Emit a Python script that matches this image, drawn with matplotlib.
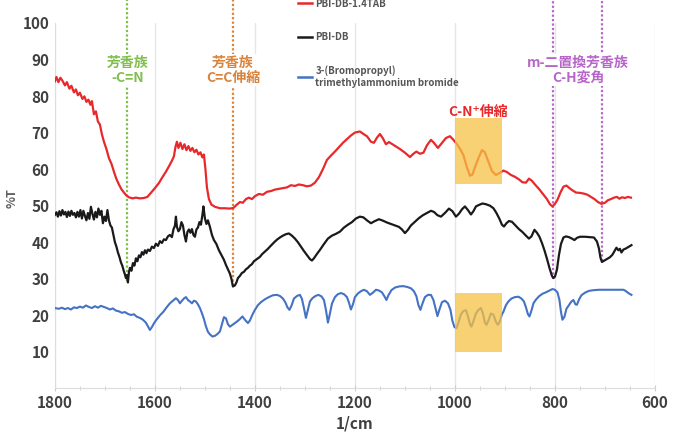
import matplotlib
matplotlib.use('Agg')  # no display

import matplotlib.pyplot as plt
from matplotlib.lines import Line2D
from matplotlib.patches import Rectangle

plt.rcParams['font.family'] = ['Noto Sans CJK JP', 'DejaVu Sans']

# red: PBI-DB-1.4TAB  (wavenumber 1/cm, %T)
red_wn = [1800, 1797, 1793, 1789, 1785, 1780, 1776, 1771, 1767, 1762, 1758, 1754, 1750,
          1745, 1741, 1737, 1733, 1729, 1726, 1722, 1718, 1714, 1710, 1706, 1702, 1697,
          1692, 1687, 1682, 1677, 1672, 1667, 1662, 1657, 1652, 1645, 1638, 1630, 1622,
          1615, 1608, 1600, 1592, 1585, 1578, 1571, 1566, 1562, 1559, 1556, 1553, 1549,
          1545, 1541, 1537, 1533, 1529, 1525, 1521, 1517, 1513, 1509, 1505, 1502, 1499,
          1496, 1492, 1487, 1480, 1470, 1460, 1450, 1443, 1436, 1430, 1424, 1418, 1412,
          1406, 1400, 1392, 1384, 1376, 1368, 1360, 1352, 1344, 1336, 1328, 1320, 1312,
          1304, 1296, 1288, 1280, 1272, 1264, 1256, 1248, 1240, 1232, 1224, 1216, 1208,
          1200, 1190, 1183, 1176, 1168, 1162, 1156, 1150, 1144, 1138, 1132, 1126, 1118,
          1110, 1100, 1090, 1083, 1077, 1070, 1063, 1056, 1048, 1042, 1034, 1027, 1018,
          1010, 1003, 997, 990, 983, 976, 970, 965, 960, 953, 946, 940, 933, 926, 918,
          910, 903, 896, 888, 880, 872, 865, 858, 852, 846, 840, 832, 824, 816, 810, 805,
          800, 795, 789, 783, 777, 771, 765, 758, 750, 742, 735, 728, 721, 714, 707, 700,
          694, 688, 682, 676, 671, 666, 660, 654, 648]
red_t = [84.0, 85.2, 83.8, 85.0, 84.2, 82.9, 83.8, 82.0, 82.8, 81.0, 81.8, 80.2, 80.9,
         79.2, 79.9, 78.4, 79.0, 77.6, 78.6, 75.0, 75.8, 73.0, 72.2, 69.5, 67.5, 65.5,
         63.0, 61.5, 59.3, 57.3, 55.8, 54.5, 53.6, 52.8, 52.3, 52.0, 52.2, 52.0, 52.1,
         52.4, 53.5, 54.8, 56.2, 57.8, 59.3, 61.0, 62.3, 63.5, 66.0, 67.5, 65.8, 67.2,
         65.5, 66.8, 65.2, 66.3, 65.0, 65.8, 64.6, 65.3, 64.0, 64.6, 63.2, 64.0, 60.0,
         55.0, 51.8, 50.3, 49.7, 49.3, 49.3, 49.2, 49.4, 50.3, 51.0, 50.8, 51.8, 52.2,
         51.8, 52.6, 53.2, 53.0, 53.8, 54.0, 54.4, 54.6, 54.8, 55.0, 55.6, 55.4, 55.8,
         55.6, 55.3, 55.5, 56.3, 57.8, 60.0, 62.5, 63.7, 64.8, 66.0, 67.2, 68.2, 69.2,
         70.0, 70.3, 69.6, 69.0, 67.5, 67.2, 68.6, 69.6, 68.4, 66.8, 67.4, 66.9, 66.2,
         65.5, 64.5, 63.3, 64.2, 64.8, 64.2, 64.5, 66.5, 68.0, 67.2, 65.8, 67.0, 68.5,
         69.0, 68.0, 67.0, 65.6, 63.8, 60.5, 58.2, 58.5, 60.5, 63.0, 65.2, 64.6, 62.0,
         59.5, 58.4, 59.0, 59.6, 59.2, 58.4, 57.9, 57.2, 56.4, 56.3, 57.4, 56.8, 55.8,
         54.6, 53.2, 51.8, 50.4, 49.8, 50.5, 51.6, 53.6, 55.2, 55.5, 54.8, 54.2, 53.6,
         53.5, 53.3, 53.0, 52.4, 51.8, 51.0, 50.5, 50.8, 51.5, 51.8, 52.2, 52.4, 51.9,
         52.3, 52.1, 52.4, 52.2]

# black: PBI-DB
blk_wn = [1800, 1797, 1794, 1791, 1788, 1785, 1782, 1779, 1776, 1773, 1770, 1767, 1764,
          1761, 1758, 1755, 1752, 1749, 1746, 1743, 1740, 1737, 1734, 1731, 1728, 1725,
          1722, 1719, 1716, 1713, 1710, 1707, 1704, 1701, 1698, 1695, 1692, 1689, 1686,
          1683, 1680, 1677, 1674, 1671, 1668, 1665, 1662, 1660, 1658, 1656, 1654, 1652,
          1650, 1647, 1644, 1641, 1638, 1635, 1632, 1629, 1626, 1623, 1620, 1617, 1614,
          1610, 1606, 1602, 1598, 1594, 1590, 1586, 1582, 1578, 1574, 1570, 1566, 1563,
          1560, 1558, 1556, 1553, 1550, 1547, 1544, 1541, 1538, 1535, 1532, 1529, 1526,
          1523, 1520, 1517, 1514, 1511, 1508, 1505, 1503, 1500, 1497, 1494, 1490, 1486,
          1482, 1477, 1472, 1467, 1462, 1458, 1454, 1450, 1447, 1444, 1440, 1437, 1434,
          1430, 1426, 1422, 1418, 1414, 1410, 1406, 1402, 1398, 1394, 1390, 1386, 1382,
          1378, 1374, 1370, 1365, 1360, 1355, 1350, 1344, 1338, 1332, 1326, 1320, 1314,
          1308, 1302, 1296, 1290, 1286, 1282, 1276, 1270, 1262, 1254, 1246, 1238, 1230,
          1222, 1214, 1206, 1198, 1190, 1183, 1176, 1168, 1160, 1152, 1144, 1136, 1128,
          1120, 1112, 1106, 1100, 1094, 1088, 1080, 1072, 1064, 1056, 1048, 1042, 1035,
          1028, 1020, 1012, 1005, 998, 992, 986, 980, 974, 968, 963, 958, 952, 945, 938,
          930, 923, 917, 911, 906, 902, 897, 892, 886, 879, 872, 865, 858, 852, 847, 841,
          836, 831, 826, 821, 816, 811, 806, 803, 800, 796, 792, 788, 783, 778, 772, 766,
          761, 756, 750, 740, 730, 722, 716, 712, 709, 706, 701, 696, 690, 685, 680, 677,
          673, 670, 667, 663, 658, 652, 647]
blk_t = [47.5, 48.2, 47.0, 48.5, 47.3, 48.8, 47.6, 48.3, 46.9, 48.4, 47.2, 48.6, 47.5,
         48.0, 46.8, 48.3, 47.0, 48.8, 46.5, 48.6, 47.2, 46.0, 48.0, 46.4, 49.7, 47.8,
         46.2, 48.3, 46.8, 49.2, 47.5, 48.6, 45.2, 47.0, 45.8, 48.8, 46.0, 44.6, 44.0,
         42.0, 40.0, 38.8, 37.2, 36.0, 34.5, 33.5, 32.0, 31.2, 30.2, 31.0, 29.0, 31.8,
         33.0, 32.2, 34.3, 33.6, 35.6, 34.8, 36.4, 35.9, 37.3, 36.6, 37.8, 37.0, 38.0,
         37.6, 38.8, 38.4, 39.6, 39.0, 40.3, 39.8, 40.8, 40.6, 41.6, 42.0, 41.4, 43.5,
         44.5, 47.0, 44.2, 43.0, 43.6, 45.5, 44.6, 42.0, 40.2, 42.8, 43.5, 42.6, 43.6,
         42.0, 41.5, 43.5, 44.0, 45.5, 44.8, 47.5, 49.8, 46.5, 45.0, 46.0, 44.2, 42.0,
         40.6, 39.5, 37.8, 36.5, 35.2, 33.8, 32.6, 31.4, 30.0, 27.9, 28.2, 29.0, 30.2,
         30.8, 31.6, 31.9, 32.6, 33.0, 33.6, 34.0, 34.8, 35.2, 35.6, 36.0, 36.7, 37.2,
         37.7, 38.2, 38.8, 39.5, 40.2, 40.8, 41.3, 41.8, 42.2, 42.4, 41.8, 41.0, 40.0,
         38.8, 37.6, 36.5, 35.4, 35.0, 35.6, 36.8, 37.9, 39.5, 41.0, 41.8, 42.3, 42.9,
         44.0, 44.8, 45.5, 46.5, 47.0, 46.8, 46.0, 45.2, 45.8, 46.3, 45.9, 45.4, 45.0,
         44.6, 44.2, 43.5, 42.5, 43.4, 44.6, 45.6, 46.6, 47.4, 48.0, 48.6, 48.3, 47.4,
         47.0, 48.0, 49.2, 48.5, 47.0, 47.8, 49.0, 49.8, 48.8, 47.6, 48.5, 49.8, 50.2,
         50.6, 50.4, 50.0, 49.3, 48.0, 46.4, 44.8, 44.3, 45.2, 45.8, 45.6, 44.6, 43.6,
         42.8, 41.8, 41.0, 41.6, 43.4, 42.6, 41.5, 39.8, 37.8, 35.5, 33.0, 30.8, 30.2,
         30.6, 32.5, 36.5, 39.5, 41.3, 41.6, 41.4, 41.0, 40.6, 41.2, 41.5, 41.5, 41.4,
         41.3, 40.2, 38.3, 35.8, 34.6, 35.0, 35.4, 35.9, 36.6, 37.8, 38.5, 37.8, 38.2,
         37.2, 38.0, 38.3, 38.8, 39.2]

# blue: 3-(Bromopropyl)trimethylammonium bromide
blu_wn = [1800, 1792, 1786, 1780, 1774, 1768, 1762, 1756, 1750, 1744, 1738, 1732, 1726,
          1720, 1714, 1708, 1702, 1696, 1690, 1684, 1678, 1672, 1666, 1660, 1654, 1648,
          1642, 1636, 1630, 1624, 1618, 1614, 1610, 1606, 1602, 1597, 1590, 1583, 1576,
          1570, 1564, 1558, 1554, 1550, 1546, 1542, 1538, 1534, 1530, 1526, 1522, 1518,
          1514, 1510, 1506, 1502, 1498, 1494, 1490, 1485, 1480, 1475, 1470, 1466, 1462,
          1458, 1454, 1450, 1445, 1440, 1435, 1430, 1425, 1420, 1414, 1410, 1405, 1400,
          1394, 1388, 1380, 1372, 1364, 1356, 1350, 1344, 1339, 1335, 1331, 1327, 1322,
          1316, 1310, 1306, 1302, 1298, 1294, 1290, 1285, 1279, 1273, 1267, 1262, 1258,
          1254, 1250, 1246, 1240, 1234, 1228, 1222, 1216, 1212, 1208, 1204, 1200, 1194,
          1188, 1182, 1176, 1170, 1164, 1158, 1152, 1146, 1141, 1137, 1133, 1127, 1120,
          1112, 1104, 1096, 1088, 1082, 1077, 1073, 1069, 1065, 1060, 1054, 1048, 1043,
          1039, 1035, 1031, 1026, 1020, 1014, 1009, 1005, 1001, 997, 993, 988, 983, 978,
          974, 970, 967, 963, 958, 953, 948, 944, 940, 937, 933, 928, 923, 918, 914, 910,
          906, 903, 898, 893, 887, 880, 873, 867, 862, 858, 854, 851, 847, 843, 838, 832,
          825, 818, 811, 805, 800, 795, 791, 788, 785, 781, 777, 772, 767, 763, 759, 756,
          752, 747, 740, 732, 722, 712, 700, 690, 680, 670, 663, 660, 656, 652, 647]
blu_t = [22.0, 21.8, 22.1, 21.7, 22.0, 21.6, 22.2, 22.0, 22.4, 22.1, 22.7, 22.3, 22.0,
         22.5, 22.1, 22.6, 22.3, 22.0, 21.6, 21.9, 21.3, 21.1, 20.7, 20.9, 20.4, 20.1,
         20.3, 19.6, 19.3, 18.8, 18.0, 17.0, 16.0, 16.8, 17.8, 18.8, 20.0, 21.0, 22.3,
         23.3, 24.0, 24.7, 24.2, 23.3, 24.0, 24.6, 25.0, 24.2, 23.8, 23.3, 24.0, 23.8,
         23.0, 22.0, 20.6, 19.0, 17.0, 15.5, 14.8, 14.2, 14.4, 14.9, 15.6, 17.5, 19.5,
         19.2, 17.6, 16.9, 17.4, 17.9, 18.4, 19.0, 19.7, 18.8, 17.9, 18.6, 20.2, 21.5,
         22.8, 23.6, 24.4, 25.0, 25.5, 25.6, 25.3, 24.6, 23.5, 22.2, 21.5, 22.6, 24.6,
         25.3, 25.6, 24.5, 22.0, 19.3, 21.5, 23.8, 24.7, 25.3, 25.6, 25.2, 24.2, 21.5,
         18.0, 20.5, 23.2, 25.0, 25.8, 26.1, 25.8, 25.0, 23.5, 21.6, 23.0, 25.0, 26.0,
         26.6, 27.0, 26.6, 25.6, 26.2, 27.0, 26.8, 26.3, 25.2, 24.2, 25.5, 26.9, 27.6,
         27.9, 28.0, 27.8, 27.4, 26.6, 25.2, 22.8, 21.5, 23.2, 25.0, 25.6, 25.6, 24.2,
         22.0, 19.8, 21.6, 23.6, 24.0, 23.3, 21.5, 18.5, 16.8, 16.5, 18.0, 20.3, 21.2,
         21.4, 19.8, 17.6, 16.9, 18.4, 20.5, 21.5, 22.0, 20.5, 18.0, 17.4, 18.6, 20.5,
         20.2, 18.2, 17.4, 18.4, 20.3, 21.0, 22.8, 23.8, 24.6, 25.0, 25.1, 24.6, 23.8,
         22.2, 20.3, 19.7, 21.3, 23.3, 24.3, 25.2, 25.9, 26.3, 26.8, 27.2, 27.0, 26.3,
         24.2, 21.0, 18.8, 19.6, 21.8, 22.8, 23.8, 24.2, 23.0, 22.9, 24.3, 25.5, 26.2,
         26.7, 26.9, 27.0, 27.0, 27.0, 27.0, 27.0, 27.0, 26.8, 26.4, 26.0, 25.6]

series_labels = ['PBI-DB-1.4TAB', 'PBI-DB',
                 '3-(Bromopropyl)\ntrimethylammonium bromide']
series_colors = ['#e8292b', '#1a1a1a', '#4472c4']

x_ticks = [1800, 1600, 1400, 1200, 1000, 800, 600]
y_ticks = [10, 20, 30, 40, 50, 60, 70, 80, 90, 100]

# marker lines: (wavenumber, lower end %T, colour)
marker_wn = [1655, 1444, 804, 706]
marker_low = [29.5, 28.0, 30.0, 34.8]
marker_colors = ['#7fbf4d', '#d9843a', '#b765c8', '#b765c8']

# highlighted C-N+ band: x range and y ranges for two boxes
box_x = (1000, 905)
box_y = [(56, 74), (10, 26)]

fig = plt.figure(figsize=(6.78, 4.36), dpi=100)
ax = fig.add_axes([0.081, 0.109, 0.885, 0.8385])

ax.plot(red_wn, red_t, color=series_colors[0], lw=1.6, zorder=3)
ax.plot(blk_wn, blk_t, color=series_colors[1], lw=1.6, zorder=3)
ax.plot(blu_wn, blu_t, color=series_colors[2], lw=1.5, zorder=3)

for wn, low, col in zip(marker_wn, marker_low, marker_colors):
    ax.plot([wn, wn], [low, 106.5], color=col, lw=1.6, ls=(0, (1, 1)),
            clip_on=False, zorder=2)

for y0, y1 in box_y:
    ax.add_patch(Rectangle((box_x[1], y0), box_x[0] - box_x[1], y1 - y0,
                           facecolor='#f5c244', alpha=0.75, edgecolor='none', zorder=4))

# annotations
txt_box = dict(facecolor='white', edgecolor='none', pad=1)
ax.text(1655, 87, '芳香族\n-C=N', color=marker_colors[0], fontsize=10, fontweight='bold',
        ha='center', va='center', linespacing=1.1, bbox=txt_box, zorder=5)
ax.text(1444, 87, '芳香族\nC=C伸縮', color=marker_colors[1], fontsize=10, fontweight='bold',
        ha='center', va='center', linespacing=1.1, bbox=txt_box, zorder=5)
ax.text(754, 87, 'm-二置換芳香族\nC-H変角', color=marker_colors[2], fontsize=10,
        fontweight='bold', ha='center', va='center', linespacing=1.1, bbox=txt_box, zorder=5)
ax.text(954, 75.5, 'C-N⁺伸縮', color='#e8292b', fontsize=10, fontweight='bold',
        ha='center', va='center', zorder=5)

ax.set_xlim(1800, 600)
ax.set_ylim(0, 100)
ax.set_xticks(x_ticks)
ax.set_xticks(range(650, 1800, 50), minor=True)
ax.set_yticks(y_ticks)
ax.tick_params(axis='both', labelsize=11, labelcolor='#404040', pad=4)
ax.tick_params(axis='x', pad=3)
ax.tick_params(axis='y', length=0)
ax.tick_params(axis='x', which='major', length=4, color='#cccccc', direction='inout')
ax.tick_params(axis='x', which='minor', length=3, color='#cccccc', direction='inout')
for lab in ax.get_xticklabels() + ax.get_yticklabels():
    lab.set_fontweight('bold')
ax.grid(True, axis='x', color='#e6e6e6', lw=1)
ax.set_axisbelow(True)
for side in ['top', 'right']:
    ax.spines[side].set_visible(False)
for side in ['left', 'bottom']:
    ax.spines[side].set_color('#dddddd')

ax.set_xlabel('1/cm', fontsize=11, fontweight='bold', color='#404040', labelpad=3)
ax.set_ylabel('%T', fontsize=9, fontweight='bold', color='#606060')
ax.yaxis.set_label_coords(-0.06, 0.52)

handles = [Line2D([], [], color=c, lw=1.8) for c in series_colors]
ax.legend(handles, series_labels, loc='upper left', bbox_to_anchor=(293 / 678, 1.014),
          bbox_transform=fig.transFigure, frameon=False, borderpad=0,
          handlelength=1.5, handletextpad=0.3, labelspacing=2.4,
          prop={'weight': 'bold', 'size': 7}, labelcolor='#555555')

fig.savefig('out.png', dpi=100)
plt.close(fig)
